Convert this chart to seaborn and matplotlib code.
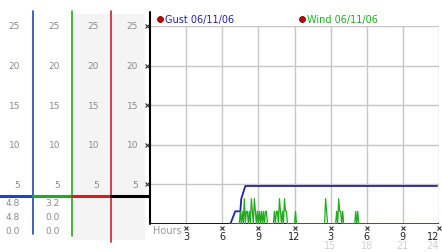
import numpy as np
import pandas as pd
import matplotlib
matplotlib.use("Agg")
import matplotlib.pyplot as plt
import matplotlib.transforms as mtransforms
from matplotlib.patches import Rectangle
import seaborn as sns

# ---------------- data ----------------
gust_hours = [6.67, 7.08, 7.50, 7.58, 7.92, 23.85]
gust_vals = [0.0, 1.6, 1.6, 3.2, 4.8, 4.8]

wind_start_idx = 80
wind_end_idx = 287
wind_idx = [90, 92, 94, 96, 97, 99, 101, 102, 104, 105, 107, 109, 111, 113, 115, 116,
            124, 126, 127, 129, 130, 132, 134, 135, 136,
            145,
            175, 176,
            186, 188, 189, 190, 192,
            205, 207]
wind_vals = [1.6, 1.6, 3.2, 1.6, 1.6, 1.6, 3.2, 1.6, 3.2, 1.6, 1.6, 1.6, 1.6, 1.6, 1.6, 1.6,
             1.6, 1.6, 1.6, 3.2, 1.6, 1.6, 3.2, 1.6, 1.6,
             1.6,
             3.2, 1.6,
             1.6, 3.2, 1.6, 1.6, 1.6,
             1.6, 1.6]

x_ticks = [3, 6, 9, 12, 15, 18, 21, 24]
x_tick_labels = ["3", "6", "9", "12", "3", "6", "9", "12"]
x_tick_labels2 = ["15", "18", "21", "24"]
y_ticks = [5, 10, 15, 20, 25]
marker_level = 3.5
legend_labels = ["Gust 06/11/06", "Wind 06/11/06"]

# ---------------- build frames ----------------
idx = np.arange(wind_start_idx, wind_end_idx + 1)
wind_full = np.zeros(len(idx))
for i, v in zip(wind_idx, wind_vals):
    wind_full[i - wind_start_idx] = v
wind_df = pd.DataFrame({"hour": idx / 12.0, "speed": wind_full})
gust_df = pd.DataFrame({"hour": gust_hours, "speed": gust_vals})

BLUE = "#2222a8"
BLUE_COL = "#1f45b8"
GREEN = "#22aa22"
RED = "#cc2222"
GRID = "#c6c6c6"
LABEL = "#8a8a8a"

sns.set_theme(style="white")
plt.rcParams["font.family"] = ["DejaVu Sans"]

W, H = 442, 253
fig = plt.figure(figsize=(W / 100, H / 100), dpi=100)

y0_px, y25_px = 225, 27  # pixel rows (from top) for value 0 and 25
ax_bottom = (H - y0_px) / H
ax_height = (y0_px - y25_px) / H

def ay(py):
    """pixel row -> axes y fraction"""
    return (y0_px - py) / (y0_px - y25_px)

# ---------------- main axes ----------------
ax = fig.add_axes([150 / W, ax_bottom, 289 / W, ax_height])
ax.set_xlim(0, 24)
ax.set_ylim(0, 25)
for s in ax.spines.values():
    s.set_visible(False)
ax.set_xticks(x_ticks)
ax.set_yticks(y_ticks)
ax.grid(True, color=GRID, lw=1.0)
ax.set_axisbelow(True)
ax.tick_params(axis="both", length=0)
ax.set_yticklabels([])
ax.set_xticklabels(x_tick_labels, fontsize=7, color="#222222")
ax.get_xticklabels()[-1].set_horizontalalignment("right")
ax.tick_params(axis="x", pad=5.0)

sns.lineplot(data=gust_df, x="hour", y="speed", ax=ax, color=BLUE, lw=1.3, legend=False)
sns.lineplot(data=wind_df, x="hour", y="speed", ax=ax, color=GREEN, lw=0.9, legend=False)
ax.set_xlabel("")
ax.set_ylabel("")

# axes lines
ax.axhline(0, color="black", lw=1.3, zorder=1)
ax.axvline(0, ymin=0, ymax=ay(13), color="black", lw=1.5, clip_on=False)

# small x tick marks
tx = mtransforms.blended_transform_factory(ax.transData, ax.transAxes)
ax.plot(x_ticks, [ay(229)] * len(x_ticks), transform=tx, ls="none", marker="x",
        ms=2.5, mew=0.8, color="#333333", clip_on=False)
for k, (xv, lab) in enumerate(zip(x_ticks[4:], x_tick_labels2)):
    last = k == len(x_tick_labels2) - 1
    ax.text(xv, ay(246), lab, transform=tx, ha="right" if last else "center",
            va="center", fontsize=7, color="#d0d0d0")
ax.text(3 / 289, ay(231), "Hours", transform=ax.transAxes, ha="left", va="center",
        fontsize=7, color="#999999")

# small y tick marks
ty = mtransforms.blended_transform_factory(ax.transAxes, ax.transData)
ax.plot([-3.5 / 289] * len(y_ticks), y_ticks, transform=ty, ls="none", marker="x",
        ms=2.5, mew=0.8, color="#333333", clip_on=False)

# ---------------- left columns ----------------
cols = [
    (0, 33, BLUE_COL, None, gust_vals),
    (33, 72, GREEN, None, list(wind_full)),
    (72, 111, RED, "#f4f4f4", None),
    (111, 149, "black", "#f4f4f4", None),
]
label_right = [20, 60, 99, 138]
bottoms = [235, 237, 243, None]
for (xl, xr, col, bg, series), lr, bpx in zip(cols, label_right, bottoms):
    cax = fig.add_axes([xl / W, ax_bottom, (xr - xl) / W, ax_height], sharey=ax)
    cax.set_facecolor("none")
    cax.set_xlim(0, 1)
    for s in cax.spines.values():
        s.set_visible(False)
    cax.set_xticks([])
    cax.tick_params(axis="y", left=False, labelleft=False)
    ct = mtransforms.blended_transform_factory(cax.transAxes, cax.transData)
    wpx = xr - xl
    if bg is not None:
        bl = 1 / wpx
        br = (wpx - 1) / wpx if col == RED else (wpx - 4) / wpx
        cax.add_patch(Rectangle((bl, ay(241)), br - bl, ay(15) - ay(241),
                                transform=cax.transAxes, color=bg, lw=0,
                                clip_on=False, zorder=0))
    if bpx is not None:
        cax.axvline(1, ymin=ay(bpx), ymax=ay(12), color=col, lw=1.2, clip_on=False)
    cax.axhline(marker_level, color=col, lw=2.2, clip_on=False)
    xr_ax = (lr - xl) / wpx
    for yv in y_ticks:
        cax.text(xr_ax, yv, str(yv), transform=ct, ha="right", va="center",
                 fontsize=6.5, color=LABEL)
    if series is not None:
        stats = [max(series), series[-1], min(series)]
        for py, v in zip([204, 218, 232], stats):
            cax.text(xr_ax, ay(py), f"{v:.1f}", transform=cax.transAxes,
                     ha="right", va="center", fontsize=6.5, color=LABEL)

# ---------------- legend ----------------
for xd, lab, col in [(160, legend_labels[0], BLUE), (302, legend_labels[1], GREEN)]:
    fig.add_artist(plt.Line2D([xd / W], [(H - 20) / H], marker="o", ms=4.2,
                              mfc="#cc0000", mec="#550000", mew=0.6, ls="none",
                              transform=fig.transFigure))
    fig.text((xd + 5) / W, (H - 20) / H, lab, ha="left", va="center",
             fontsize=7, color=col)

fig.savefig("out.png", dpi=100)
